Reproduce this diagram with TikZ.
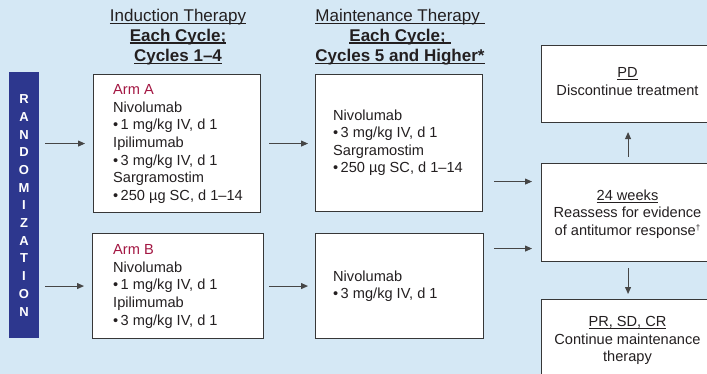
\documentclass[tikz,border=0pt]{standalone}
\usepackage{fontspec}
\setmainfont{Liberation Sans}
\usetikzlibrary{arrows.meta}
\definecolor{bg}{RGB}{213,232,245}
\definecolor{ink}{RGB}{35,31,32}
\definecolor{armcol}{RGB}{163,22,66}
\definecolor{randblue}{RGB}{45,55,142}
\definecolor{boxline}{RGB}{55,55,55}
\definecolor{arrline}{RGB}{70,70,70}
\newcommand\myul[2][0.9pt]{\setbox0\hbox{#2}\rlap{\rule[-2.4pt]{\wd0}{#1}}\box0}
\begin{document}
\begin{tikzpicture}[x=1pt,y=-1pt,
  box/.style={draw=boxline, line width=1.1pt, fill=white, inner sep=0pt, anchor=north west},
  txt/.style={inner sep=0pt, font=\fontsize{14.6}{17.6}\selectfont, text=ink, align=left, anchor=north west},
  ctxt/.style={inner sep=0pt, font=\fontsize{14.6}{17.6}\selectfont, text=ink, align=center, anchor=north},
  ttl/.style={inner sep=0pt, font=\fontsize{17}{20.2}\selectfont, text=ink, align=center, anchor=north},
  arr/.style={draw=arrline, line width=0.9pt, -{Triangle[length=7pt,width=6pt]}}]
\useasboundingbox (0,0) rectangle (707,374);
\clip (0,0) rectangle (707,374);
\fill[bg] (0,0) rectangle (707,374);

% titles
\node[ttl] (t1) at (178,8.5) {\myul{Induction Therapy}\\ \textbf{\myul[1.3pt]{Each Cycle;}}\\ \textbf{\myul[1.3pt]{Cycles 1–4}}};
\node[ttl] (t2) at (400,8.5) {\myul{Maintenance Therapy\ }\\ \textbf{\myul[1.3pt]{Each Cycle;\ }}\\ \textbf{\myul[1.3pt]{Cycles 5 and Higher*}}};

% randomization bar
\node[fill=randblue, inner sep=0pt, minimum width=30pt, minimum height=266pt, anchor=north west] (rand) at (9,72) {};
\node[inner sep=0pt, anchor=north, text=white, align=center, font=\fontsize{13}{17.7}\selectfont\bfseries] (randtxt) at (24,94.5) {R\\A\\N\\D\\O\\M\\I\\Z\\A\\T\\I\\O\\N};

% boxes
\node[box, minimum width=167pt, minimum height=138pt] (armA) at (93,74) {};
\node[box, minimum width=171pt, minimum height=105pt] (armB) at (92,233) {};
\node[box, minimum width=167pt, minimum height=137pt] (mA) at (315,74) {};
\node[box, minimum width=168pt, minimum height=105pt] (mB) at (315,233) {};
\node[box, minimum width=173pt, minimum height=77pt] (pd) at (541,45) {};
\node[box, minimum width=173pt, minimum height=98pt] (wk) at (541,163) {};
\node[box, minimum width=173pt, minimum height=110pt] (pr) at (541,299) {};

% box texts
\node[txt] (armAtxt) at (113,84.4) {\textcolor{armcol}{Arm A}\\ Nivolumab\\ •\,1 mg/kg IV, d 1\\ Ipilimumab\\ •\,3 mg/kg IV, d 1\\ Sargramostim\\ •\,250 µg SC, d 1–14};
\node[txt] (armBtxt) at (113,244.4) {\textcolor{armcol}{Arm B}\\ Nivolumab\\ •\,1 mg/kg IV, d 1\\ Ipilimumab\\ •\,3 mg/kg IV, d 1};
\node[txt] (mAtxt) at (333,109.4) {Nivolumab\\ •\,3 mg/kg IV, d 1\\ Sargramostim\\ •\,250 µg SC, d 1–14};
\node[txt] (mBtxt) at (333,270.4) {Nivolumab\\ •\,3 mg/kg IV, d 1};
\node[ctxt] (pdtxt) at (627.5,67.4) {\myul[0.8pt]{PD}\\ Discontinue treatment};
\node[ctxt] (wktxt) at (627.5,189.4) {\myul[0.8pt]{24 weeks}\\ Reassess for evidence\\ of antitumor response\raisebox{4.5pt}{\fontsize{8}{8}\selectfont †}};
\node[ctxt] (prtxt) at (627.5,316.4) {\myul[0.8pt]{PR, SD, CR}\\ Continue maintenance\\ therapy};

% connectors
\draw[arr, shorten <=6pt, shorten >=8pt] (rand.east |- armA.west) -- (armA.west);
\draw[arr, shorten <=6pt, shorten >=8pt] (rand.east |- armB.west) -- (armB.west);
\draw[arr, shorten <=8pt, shorten >=7pt] (armA.east) -- (armA.east -| mA.west);
\draw[arr, shorten <=5pt, shorten >=7pt] (armB.east) -- (armB.east -| mB.west);
\draw[arr, shorten <=11pt, shorten >=9pt] ([yshift=-38.5pt]mA.east) -- ([yshift=-38.5pt]mA.east -| wk.west);
\draw[arr, shorten <=10pt, shorten >=9pt] ([yshift=37.5pt]mB.east) -- ([yshift=37.5pt]mB.east -| wk.west);
\draw[arr, shorten <=6pt, shorten >=9pt] (wk.north) -- (pd.south);
\draw[arr, shorten <=6pt, shorten >=5pt] (wk.south) -- (pr.north);
\end{tikzpicture}
\end{document}
